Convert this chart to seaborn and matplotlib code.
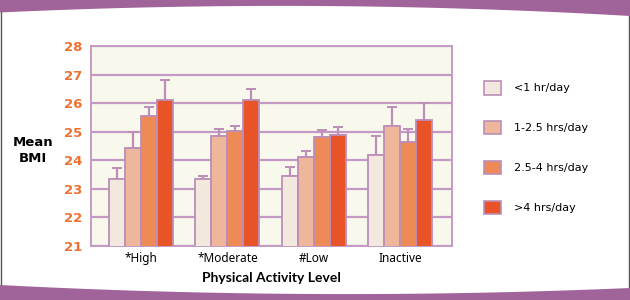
import numpy as np
import pandas as pd
import matplotlib
matplotlib.use("Agg")
import matplotlib.pyplot as plt
import seaborn as sns
from matplotlib.patches import Polygon
from matplotlib.lines import Line2D

categories = ["*High", "*Moderate", "#Low", "Inactive"]
hours = ["<1 hr/day", "1-2.5 hrs/day", "2.5-4 hrs/day", ">4 hrs/day"]
bmi_lt1 = [23.33, 23.33, 23.45, 24.17]
bmi_1_25 = [24.43, 24.85, 24.13, 25.20]
bmi_25_4 = [25.55, 25.02, 24.82, 24.63]
bmi_gt4 = [26.12, 26.12, 24.90, 25.40]
err_lt1 = [0.40, 0.13, 0.32, 0.68]
err_1_25 = [0.55, 0.23, 0.21, 0.65]
err_25_4 = [0.33, 0.18, 0.24, 0.48]
err_gt4 = [0.68, 0.38, 0.28, 0.60]
yticks = [21, 22, 23, 24, 25, 26, 27, 28]

colors = ["#F2E8DE", "#EEB79C", "#EE8A55", "#E85427"]
edge = "#BC8EB8"
purple = "#A0649A"

values = [bmi_lt1, bmi_1_25, bmi_25_4, bmi_gt4]
errors = [err_lt1, err_1_25, err_25_4, err_gt4]
rows = []
for h, vals, errs in zip(hours, values, errors):
    for c, v, e in zip(categories, vals, errs):
        rows.append({"cat": c, "hours": h, "bmi": v, "err": e})
df = pd.DataFrame(rows)

sns.set_theme(style="white")
plt.rcParams["font.family"] = ["DejaVu Sans"]
plt.rcParams["text.color"] = "black"

fig = plt.figure(figsize=(6.3, 3.0), dpi=100)
fig.patch.set_facecolor("white")
ax = fig.add_axes([91/630, 1-246/300, (452-91)/630, 200/300])
ax.set_facecolor("#F9F8EC")

sns.barplot(data=df, x="cat", y="bmi", hue="hours", order=categories,
            hue_order=hours, palette=colors, saturation=1, width=0.74,
            errorbar=None, edgecolor=edge, linewidth=1.3, ax=ax,
            legend=False, zorder=3)

# error bars (upward only) at bar centres
for cont, h in zip(ax.containers, hours):
    sub = df[df["hours"] == h].set_index("cat").loc[categories]
    xs = [p.get_x() + p.get_width()/2 for p in cont.patches]
    ax.errorbar(xs, sub["bmi"].values,
                yerr=[np.zeros(len(xs)), sub["err"].values],
                fmt="none", ecolor=edge, elinewidth=1.6, capsize=3.6,
                capthick=1.4, zorder=2)

ax.set_ylim(21, 28)
ax.set_xlim(-0.58, 3.60)
ax.set_yticks(yticks)
ax.set_yticklabels([str(t) for t in yticks], color="#F07030",
                   fontweight="bold", fontsize=9.5)
ax.yaxis.grid(True, color="#C49AC4", linewidth=1.6, zorder=0)
ax.set_axisbelow(True)
for s in ax.spines.values():
    s.set_color("#C49AC4")
    s.set_linewidth(1.4)
ax.tick_params(axis="both", length=0, pad=6)
ax.tick_params(axis="x", pad=4, labelsize=8.5, labelcolor="black")
for t in ax.get_xticklabels():
    t.set_family(["Noto Sans", "DejaVu Sans"])
    t.set_fontweight("medium")
ax.set_xlabel("Physical Activity Level", fontsize=10, fontweight="bold",
              family=["Lato", "DejaVu Sans"], labelpad=5, color="black")
ax.set_ylabel("")
fig.text(33/630, 1-150/300, "Mean\nBMI", ha="center", va="center",
         fontsize=9.5, fontweight="bold", linespacing=1.3, color="black")

# legend
handles = [plt.Rectangle((0, 0), 1, 1, facecolor=c, edgecolor=edge,
                         linewidth=1.2) for c in colors]
leg = fig.legend(handles, hours, loc="upper left",
                 bbox_to_anchor=(474/630, 1-71/300), frameon=False,
                 fontsize=8, handlelength=1.5, handleheight=1.5,
                 labelspacing=2.37, handletextpad=1.2)
for t in leg.get_texts():
    t.set_color("black")

# decorative bands
xs_c = np.linspace(0, 630, 200)
def quad(x0, y0, y1, y2):
    a = np.polyfit([0, 315, 630], [y0, y1, y2], 2)
    return np.polyval(a, x0)
top = quad(xs_c, 12.5, 6, 16)
bot = quad(xs_c, 285, 294, 288)
ptop = np.vstack([np.c_[xs_c/630, 1-top/300], [[1, 1], [0, 1]]])
pbot = np.vstack([np.c_[xs_c/630, 1-bot/300], [[1, 0], [0, 0]]])
for pts in (ptop, pbot):
    fig.patches.append(Polygon(pts, closed=True, transform=fig.transFigure,
                               facecolor=purple, edgecolor="none", zorder=5))
for x in (0.5/630, 628.5/630):
    fig.lines.append(Line2D([x, x], [0, 1], transform=fig.transFigure,
                            color="#555555", linewidth=1.0))

fig.savefig("out.png", dpi=100)
